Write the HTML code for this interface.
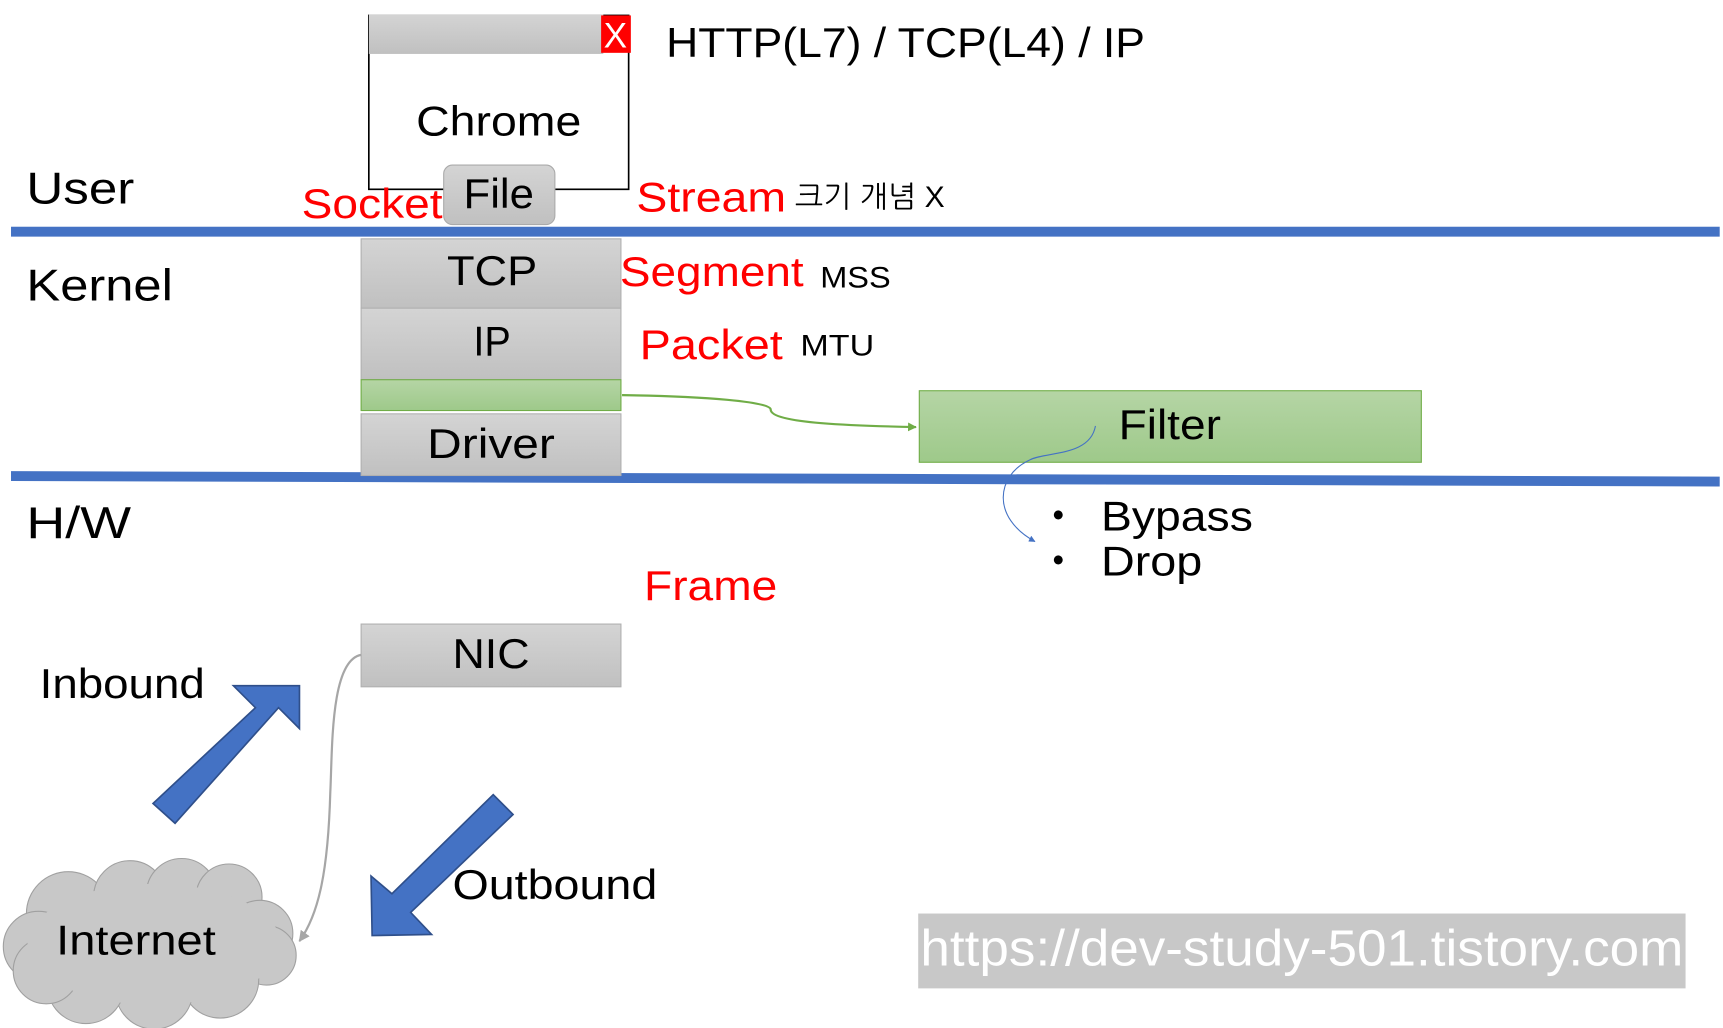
<!DOCTYPE html>
<html><head><meta charset="utf-8"><style>
html,body{margin:0;padding:0;background:#fff;}
svg{display:block}
text{font-family:"Liberation Sans","NanumGothic","Noto Sans CJK KR",sans-serif;}
</style></head><body>
<svg width="1723" height="1028" viewBox="0 0 1565 934" preserveAspectRatio="none" xmlns="http://www.w3.org/2000/svg">
<defs>
<linearGradient id="g" x1="0" y1="0" x2="0" y2="1"><stop offset="0" stop-color="#d4d4d4"/><stop offset="1" stop-color="#c0c0c0"/></linearGradient>
<linearGradient id="gr" x1="0" y1="0" x2="0" y2="1"><stop offset="0" stop-color="#b5d5a5"/><stop offset="1" stop-color="#9ec98a"/></linearGradient>
<marker id="ag" viewBox="0 0 10 10" refX="9" refY="5" markerWidth="4" markerHeight="4" orient="auto"><path d="M0,0L10,5L0,10z" fill="#70ad47"/></marker>
<marker id="ab" viewBox="0 0 10 10" refX="9" refY="5" markerWidth="6" markerHeight="6" orient="auto"><path d="M0,0L10,5L0,10z" fill="#4472c4"/></marker>
<marker id="ay" viewBox="0 0 10 10" refX="9" refY="5" markerWidth="5" markerHeight="5" orient="auto"><path d="M0,0L10,5L0,10z" fill="#a6a6a6"/></marker>
</defs>
<rect x="10" y="206" width="1552" height="9" fill="#4472c4"/>
<polygon points="10,428 1562,433 1562,442 10,437" fill="#4472c4"/>
<rect x="335" y="14" width="236" height="158" fill="#fff" stroke="#000" stroke-width="1.5"/>
<rect x="335" y="13" width="213" height="36" fill="url(#g)"/>
<rect x="546" y="14" width="27" height="34" fill="#ff0000"/>
<text x="559" y="43" font-size="32" fill="#fff" text-anchor="middle">X</text>
<text x="378" y="123" font-size="38" textLength="150" lengthAdjust="spacingAndGlyphs">Chrome</text>
<rect x="403" y="150" width="101" height="54" rx="8" fill="url(#g)" stroke="#aaa"/>
<text x="421" y="189" font-size="38" textLength="64" lengthAdjust="spacingAndGlyphs">File</text>
<text x="605" y="52" font-size="38" textLength="435" lengthAdjust="spacingAndGlyphs">HTTP(L7) / TCP(L4) / IP</text>
<text x="24" y="185" font-size="40" textLength="98" lengthAdjust="spacingAndGlyphs">User</text>
<text x="274" y="198" font-size="38" fill="#ff0000" textLength="128" lengthAdjust="spacingAndGlyphs">Socket</text>
<text x="578" y="192" font-size="38" fill="#ff0000" textLength="136" lengthAdjust="spacingAndGlyphs">Stream</text>
<text x="722" y="188" font-size="27" textLength="136" lengthAdjust="spacingAndGlyphs">크기 개념 X</text>
<text x="24" y="273" font-size="40" textLength="133" lengthAdjust="spacingAndGlyphs">Kernel</text>
<rect x="328" y="217" width="236" height="63" fill="url(#g)" stroke="#b0b0b0"/>
<text x="406" y="259" font-size="38" textLength="82" lengthAdjust="spacingAndGlyphs">TCP</text>
<rect x="328" y="280" width="236" height="65" fill="url(#g)" stroke="#b0b0b0"/>
<text x="430" y="323" font-size="38" textLength="34" lengthAdjust="spacingAndGlyphs">IP</text>
<rect x="328" y="345" width="236" height="28" fill="url(#gr)" stroke="#70ad47"/>
<rect x="328" y="376" width="236" height="56" fill="url(#g)" stroke="#b0b0b0"/>
<text x="388" y="416" font-size="38" textLength="116" lengthAdjust="spacingAndGlyphs">Driver</text>
<text x="563" y="260" font-size="38" fill="#ff0000" textLength="167" lengthAdjust="spacingAndGlyphs">Segment</text>
<text x="745" y="261" font-size="27" textLength="64" lengthAdjust="spacingAndGlyphs">MSS</text>
<text x="581" y="326" font-size="38" fill="#ff0000" textLength="130" lengthAdjust="spacingAndGlyphs">Packet</text>
<text x="727" y="323" font-size="27" textLength="67" lengthAdjust="spacingAndGlyphs">MTU</text>
<rect x="835" y="355" width="456" height="65" fill="url(#gr)" stroke="#70ad47"/>
<text x="1016" y="399" font-size="38" textLength="93" lengthAdjust="spacingAndGlyphs">Filter</text>
<path d="M565,359 C640,360 700,365 700,372 C700,385 780,387 832,388" fill="none" stroke="#70ad47" stroke-width="2" marker-end="url(#ag)"/>
<path d="M995,387 C990,415 950,410 935,418 C905,432 900,470 940,492" fill="none" stroke="#4472c4" stroke-width="1" marker-end="url(#ab)"/>
<text x="24" y="489" font-size="40" textLength="95" lengthAdjust="spacingAndGlyphs">H/W</text>
<text x="956" y="478" font-size="30">•</text>
<text x="1000" y="482" font-size="38" textLength="138" lengthAdjust="spacingAndGlyphs">Bypass</text>
<text x="956" y="519" font-size="30">•</text>
<text x="1000" y="523" font-size="38" textLength="92" lengthAdjust="spacingAndGlyphs">Drop</text>
<text x="585" y="545" font-size="38" fill="#ff0000" textLength="121" lengthAdjust="spacingAndGlyphs">Frame</text>
<rect x="328" y="567" width="236" height="57" fill="url(#g)" stroke="#b0b0b0"/>
<text x="411" y="607" font-size="38" textLength="70" lengthAdjust="spacingAndGlyphs">NIC</text>
<text x="36" y="634" font-size="38" textLength="150" lengthAdjust="spacingAndGlyphs">Inbound</text>
<path d="M328,595 C300,600 302,680 300,720 C298,790 290,830 272,855" fill="none" stroke="#a6a6a6" stroke-width="2" marker-end="url(#ay)"/>
<polygon points="139,730 232,643 212,623 272,623 272,662 253,643 159,748" fill="#4472c4" stroke="#2f4f8a" stroke-width="1.5"/>
<polygon points="466,740 373,829 392,849 338,850 337,796 356,812 448,722" fill="#4472c4" stroke="#2f4f8a" stroke-width="1.5"/>
<text x="411" y="817" font-size="38" textLength="186" lengthAdjust="spacingAndGlyphs">Outbound</text>
<g fill="#c8c8c8" stroke="#a0a0a0" stroke-width="1">
<circle cx="62" cy="830" r="38"/><circle cx="118" cy="815" r="33"/><circle cx="165" cy="812" r="32"/><circle cx="208" cy="815" r="30"/><circle cx="236" cy="848" r="30"/><circle cx="242" cy="868" r="27"/><circle cx="200" cy="890" r="35"/><circle cx="140" cy="900" r="35"/><circle cx="78" cy="895" r="35"/><circle cx="35" cy="860" r="32"/><circle cx="42" cy="882" r="30"/>
</g>
<ellipse cx="140" cy="858" rx="115" ry="55" fill="#c8c8c8"/>
<text x="51" y="867" font-size="38" textLength="145" lengthAdjust="spacingAndGlyphs">Internet</text>
<rect x="834" y="830" width="697" height="68" fill="#c8c8c8"/>
<text x="836" y="877" font-size="46" fill="#fff" textLength="693" lengthAdjust="spacingAndGlyphs">https://dev-study-501.tistory.com</text>
</svg>
</body></html>
